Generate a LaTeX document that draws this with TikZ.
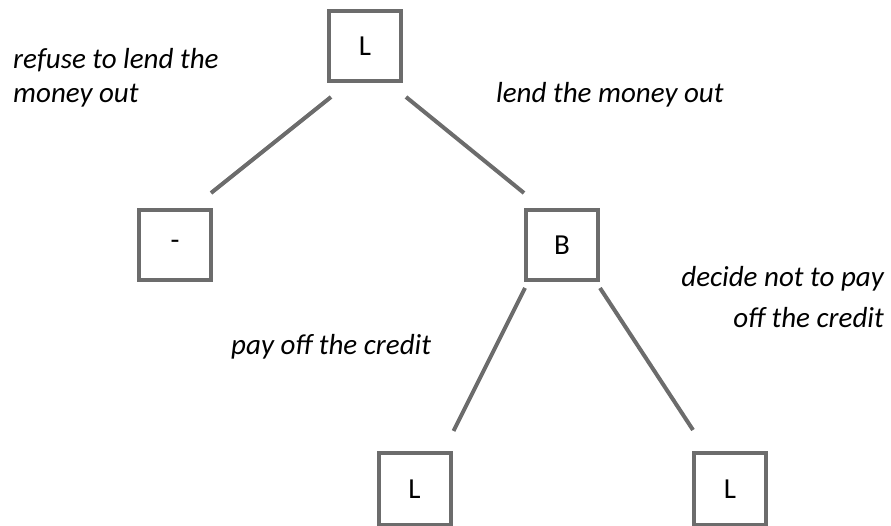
\documentclass[tikz,border=0pt]{standalone}
\usepackage{fontspec}
\setmainfont{Carlito}
\usepackage{tikz}

\definecolor{treegray}{RGB}{108,108,108}

\tikzset{
	player/.style={draw=treegray,line width=4pt,minimum width=72pt,minimum height=70pt,inner sep=0pt,fill=white,font=\fontsize{29}{34}\selectfont},
	branch/.style={draw=treegray,line width=4pt},
	move/.style={inner sep=0pt,font=\fontsize{29}{34}\selectfont\itshape}
}

\begin{document}
\begin{tikzpicture}[x=1pt,y=-1pt]
	
	\useasboundingbox (0,0) rectangle (891,526);
	
	% players
	\node[player] (root) at (365,46) {L};
	\node[player] (stop) at (175,245) {-};
	\node[player] (bor) at (562,245) {B};
	\node[player,minimum height=72pt] (pay) at (414.5,489) {L};
	\node[player,minimum height=72pt] (nopay) at (730,489) {L};
	
	% branches
	\draw[branch] ([xshift=4pt,yshift=-14pt]root.south west) -- ([xshift=-2pt,yshift=15pt]stop.north east);
	\draw[branch] ([xshift=3pt,yshift=-14pt]root.south east) -- ([yshift=15pt]bor.north west);
	\draw[branch] ([xshift=1pt,yshift=-6pt]bor.south west) -- ([xshift=1pt,yshift=20pt]pay.north east);
	\draw[branch] ([yshift=-6pt]bor.south east) -- ([xshift=1pt,yshift=21pt]nopay.north west);
	
	% moves
	\node[move,anchor=base west,align=left] (refuse) at (13,103) {refuse to lend the\\money out};
	\node[move,anchor=base west] (lend) at (496,103) {lend the money out};
	\node[move,anchor=base west] (payoff) at (231,355) {pay off the credit};
	\node[move,anchor=base east,align=right] (default) at (884,327) {decide not to pay\\[6pt]off the credit};
	
\end{tikzpicture}
\end{document}
